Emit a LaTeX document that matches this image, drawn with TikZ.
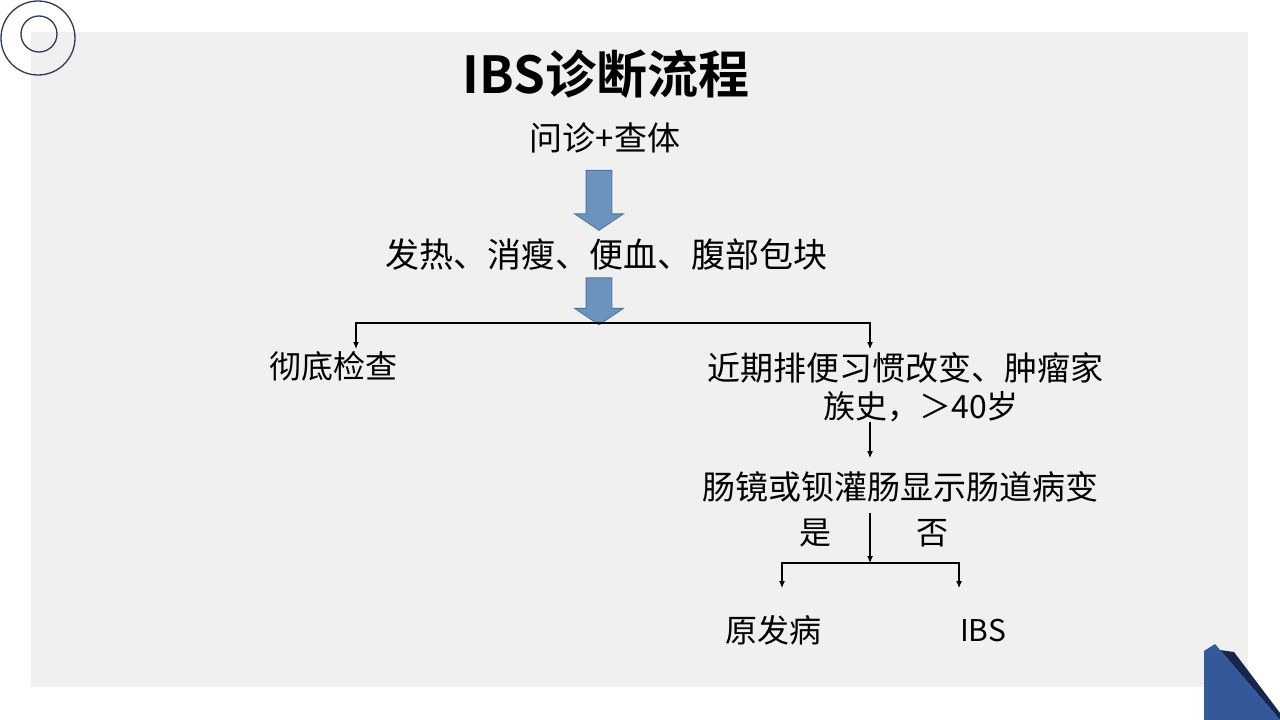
\documentclass[tikz,border=0pt]{standalone}
\usepackage{fontspec}
\setmainfont{Noto Sans CJK SC}[BoldFont={Noto Sans CJK SC Bold}]
\usetikzlibrary{arrows.meta,shapes.arrows}
\definecolor{slidegray}{HTML}{F0F0F0}
\definecolor{ringnavy}{HTML}{2E3A55}
\definecolor{arrowblue}{HTML}{6C93BE}
\definecolor{arrowedge}{HTML}{4F74A0}
\definecolor{cornerblue}{HTML}{34589A}
\definecolor{cornernavy}{HTML}{17264A}
\newcommand{\txtsize}[1]{\fontsize{#1}{#1}\selectfont}

\begin{document}
\begin{tikzpicture}[x=1pt,y=-1pt,
    txt/.style={inner sep=0pt,font=\txtsize{33}},
    bigarrow/.style={shape=single arrow,draw=arrowedge,fill=arrowblue,
      line width=0.8pt,rotate=-90,inner xsep=0pt,inner ysep=12.5pt,
      minimum width=48pt,single arrow head extend=11.5pt,
      single arrow tip angle=112},
    conn/.style={line width=1.1pt,-{Latex[length=7pt,width=6pt]}},
    plain/.style={line width=1.1pt}]
    \useasboundingbox (0,0) rectangle (1280,720);
    \fill[white] (0,0) rectangle (1280,720);
    \fill[slidegray] (31,32) rectangle (1248,687);
    % corner marks
    \draw[ringnavy,line width=1.3pt] (38,38) circle (37);
    \draw[ringnavy,line width=1.3pt] (39,34) circle (18);
    \fill[cornernavy] (1220,650) -- (1234,652) -- (1280,713) -- (1280,720) -- cycle;
    \fill[cornerblue] (1204,651) -- (1215,644) -- (1280,720) -- (1204,720) -- cycle;

    \node (title) at (606,74) [inner sep=0pt,font=\txtsize{51}\bfseries] {IBS诊断流程};
    \node (ask) at (605,138) [txt] {问诊+查体};
    \node (b1) at (599,196) [bigarrow,minimum height=60pt] {};
    \node (signs) at (606,255) [txt,font=\txtsize{34}] {发热、消瘦、便血、腹部包块};
    \node (b2) at (599,297) [bigarrow,minimum height=47pt] {};
    \node (exam) at (333,366) [txt,font=\txtsize{32}] {彻底检查};
    \node (recent) at (905,368) [txt] {近期排便习惯改变、肿瘤家};
    \node (recent2) at (921,407) [txt,font=\txtsize{32}] {族史，＞40岁};
    \node (scope) at (900,487) [txt] {肠镜或钡灌肠显示肠道病变};
    \node (yes) at (815,533) [txt,font=\txtsize{32}] {是};
    \node (no) at (932,533) [txt,font=\txtsize{32}] {否};
    \node (organic) at (773,630) [txt,font=\txtsize{32}] {原发病};
    \node (ibs) at (983,630) [txt,font=\txtsize{30}] {IBS};

    \coordinate (s1) at (599,323);
    \coordinate (e1) at (356,349);
    \coordinate (e2) at (870,349);
    \coordinate (h1) at (870,422);
    \coordinate (h2) at (870,458);
    \coordinate (v1) at (870,513);
    \coordinate (s2) at (870,563);
    \coordinate (e3) at (782,588);
    \coordinate (e4) at (959,588);
    \draw[conn] (s1) -| (e1);
    \draw[conn] (s1) -| (e2);
    \draw[conn] (h1) -- (h2);
    \draw[conn] (v1) -- (s2);
    \draw[conn] (s2) -| (e3);
    \draw[conn] (s2) -| (e4);
  \end{tikzpicture}
\end{document}
